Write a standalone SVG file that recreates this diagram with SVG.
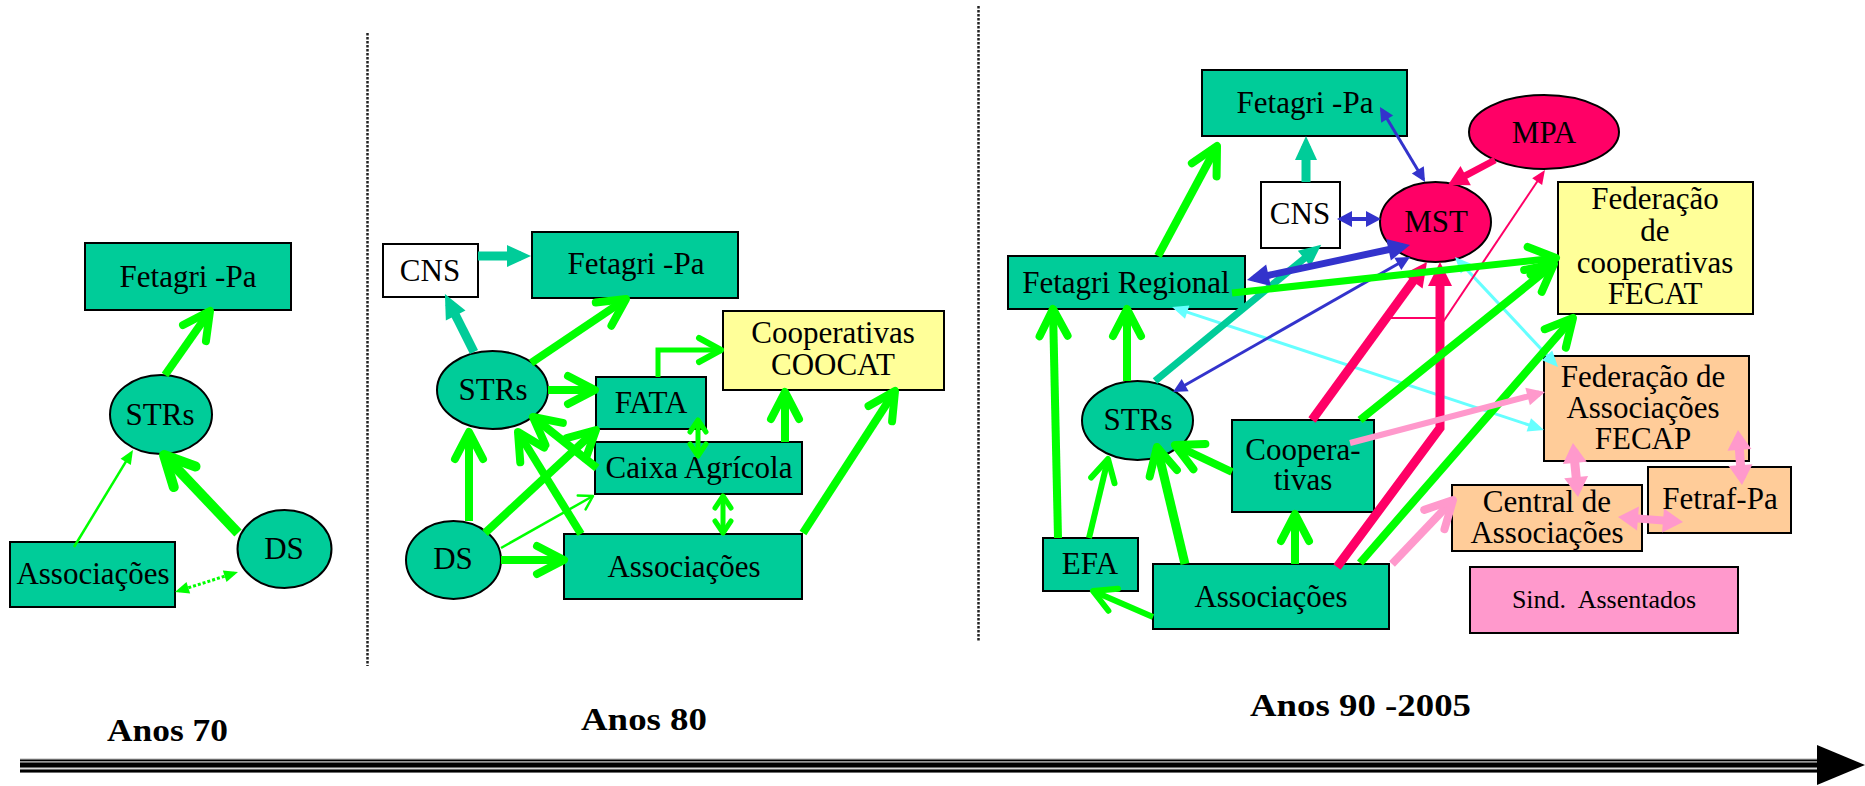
<svg xmlns="http://www.w3.org/2000/svg" width="1865" height="786" viewBox="0 0 1865 786">
<style>
.box{fill:#00CC99;stroke:#000;stroke-width:2}
.wht{fill:#FFFFFF;stroke:#000;stroke-width:2}
.yel{fill:#FFFF99;stroke:#000;stroke-width:2}
.pch{fill:#FFCC99;stroke:#000;stroke-width:2}
.pnk{fill:#FF99CC;stroke:#000;stroke-width:2}
.red{fill:#FF0066;stroke:#000;stroke-width:2}
text{font-family:"Liberation Serif","Times New Roman",serif;font-size:31px;fill:#000;text-anchor:middle}
.lbl{font-weight:bold;text-anchor:start}
.c{fill:none}
.g2{stroke:#00FF00;stroke-width:2.5}
.g5{stroke:#00FF00;stroke-width:5}
.g6{stroke:#00FF00;stroke-width:6}
.g7{stroke:#00FF00;stroke-width:7}
.g8{stroke:#00FF00;stroke-width:8}
.g9{stroke:#00FF00;stroke-width:9}
.g10{stroke:#00FF00;stroke-width:10}
.gd{stroke:#00FF00;stroke-width:3;stroke-dasharray:3 2}
.t7{stroke:#00CC99;stroke-width:7}
.t9{stroke:#00CC99;stroke-width:9}
.b3{stroke:#3333CC;stroke-width:3}
.b4{stroke:#3333CC;stroke-width:4}
.b7{stroke:#3333CC;stroke-width:7}
.r2{stroke:#FF0066;stroke-width:2}
.r7{stroke:#FF0066;stroke-width:7}
.r9{stroke:#FF0066;stroke-width:9}
.p6{stroke:#FF99CC;stroke-width:6}
.p8{stroke:#FF99CC;stroke-width:8}
.p9{stroke:#FF99CC;stroke-width:9}
.c3{stroke:#66FFFF;stroke-width:3}
.chev{fill:none;stroke-linecap:round;stroke-linejoin:round}
</style>
<defs>
<marker id="chL" markerUnits="userSpaceOnUse" viewBox="-40 -25 50 50" markerWidth="50" markerHeight="50" refX="0" refY="0" orient="auto-start-reverse" overflow="visible"><path class="chev" d="M-27,-14 L0,0 L-27,14" stroke="#00FF00" stroke-width="8"/></marker>
<marker id="chXL" markerUnits="userSpaceOnUse" viewBox="-40 -25 50 50" markerWidth="50" markerHeight="50" refX="0" refY="0" orient="auto-start-reverse" overflow="visible"><path class="chev" d="M-30,-15 L0,0 L-30,15" stroke="#00FF00" stroke-width="10"/></marker>
<marker id="chM" markerUnits="userSpaceOnUse" viewBox="-40 -25 50 50" markerWidth="50" markerHeight="50" refX="0" refY="0" orient="auto-start-reverse" overflow="visible"><path class="chev" d="M-22,-12 L0,0 L-22,12" stroke="#00FF00" stroke-width="6"/></marker>
<marker id="chD" markerUnits="userSpaceOnUse" viewBox="-40 -25 50 50" markerWidth="50" markerHeight="50" refX="0" refY="0" orient="auto-start-reverse" overflow="visible"><path class="chev" d="M-12,-8 L0,0 L-12,8" stroke="#00FF00" stroke-width="5"/></marker>
<marker id="chS" markerUnits="userSpaceOnUse" viewBox="-40 -25 50 50" markerWidth="50" markerHeight="50" refX="0" refY="0" orient="auto-start-reverse" overflow="visible"><path class="chev" d="M-13,-8 L0,0 L-13,8" stroke="#00FF00" stroke-width="2.5"/></marker>
<marker id="chP" markerUnits="userSpaceOnUse" viewBox="-40 -25 50 50" markerWidth="50" markerHeight="50" refX="0" refY="0" orient="auto-start-reverse" overflow="visible"><path class="chev" d="M-27,-14 L0,0 L-27,14" stroke="#FF99CC" stroke-width="8"/></marker>
<marker id="tG" markerUnits="userSpaceOnUse" viewBox="-40 -25 50 50" markerWidth="50" markerHeight="50" refX="0" refY="0" orient="auto-start-reverse" overflow="visible"><path d="M-10,-6 L4,0 L-10,6 Z" fill="#00FF00"/></marker>
<marker id="tT" markerUnits="userSpaceOnUse" viewBox="-40 -25 50 50" markerWidth="50" markerHeight="50" refX="0" refY="0" orient="auto-start-reverse" overflow="visible"><path d="M-14,-11 L10,0 L-14,11 Z" fill="#00CC99"/></marker>
<marker id="tT7" markerUnits="userSpaceOnUse" viewBox="-40 -25 50 50" markerWidth="50" markerHeight="50" refX="0" refY="0" orient="auto-start-reverse" overflow="visible"><path d="M-14,-10 L8,0 L-14,10 Z" fill="#00CC99"/></marker>
<marker id="tBs" markerUnits="userSpaceOnUse" viewBox="-40 -25 50 50" markerWidth="50" markerHeight="50" refX="0" refY="0" orient="auto-start-reverse" overflow="visible"><path d="M-11,-7 L3,0 L-11,7 Z" fill="#3333CC"/></marker>
<marker id="tBm" markerUnits="userSpaceOnUse" viewBox="-40 -25 50 50" markerWidth="50" markerHeight="50" refX="0" refY="0" orient="auto-start-reverse" overflow="visible"><path d="M-11,-8 L4,0 L-11,8 Z" fill="#3333CC"/></marker>
<marker id="tBl" markerUnits="userSpaceOnUse" viewBox="-40 -25 50 50" markerWidth="50" markerHeight="50" refX="0" refY="0" orient="auto-start-reverse" overflow="visible"><path d="M-15,-11 L7,0 L-15,11 Z" fill="#3333CC"/></marker>
<marker id="tRs" markerUnits="userSpaceOnUse" viewBox="-40 -25 50 50" markerWidth="50" markerHeight="50" refX="0" refY="0" orient="auto-start-reverse" overflow="visible"><path d="M-11,-6 L3,0 L-11,6 Z" fill="#FF0066"/></marker>
<marker id="tRm" markerUnits="userSpaceOnUse" viewBox="-40 -25 50 50" markerWidth="50" markerHeight="50" refX="0" refY="0" orient="auto-start-reverse" overflow="visible"><path d="M-13,-11 L7,0 L-13,11 Z" fill="#FF0066"/></marker>
<marker id="tRl" markerUnits="userSpaceOnUse" viewBox="-40 -25 50 50" markerWidth="50" markerHeight="50" refX="0" refY="0" orient="auto-start-reverse" overflow="visible"><path d="M-15,-12 L9,0 L-15,12 Z" fill="#FF0066"/></marker>
<marker id="tP" markerUnits="userSpaceOnUse" viewBox="-40 -25 50 50" markerWidth="50" markerHeight="50" refX="0" refY="0" orient="auto-start-reverse" overflow="visible"><path d="M-13,-12 L7,0 L-13,12 Z" fill="#FF99CC"/></marker>
<marker id="tPm" markerUnits="userSpaceOnUse" viewBox="-40 -25 50 50" markerWidth="50" markerHeight="50" refX="0" refY="0" orient="auto-start-reverse" overflow="visible"><path d="M-12,-9 L6,0 L-12,9 Z" fill="#FF99CC"/></marker>
<marker id="tC" markerUnits="userSpaceOnUse" viewBox="-40 -25 50 50" markerWidth="50" markerHeight="50" refX="0" refY="0" orient="auto-start-reverse" overflow="visible"><path d="M-12,-7 L4,0 L-12,7 Z" fill="#66FFFF"/></marker>
</defs>
<rect width="1865" height="786" fill="#FFFFFF"/>

<g id="separators">
<line x1="367.5" y1="33" x2="367.5" y2="666" stroke="#222" stroke-width="2.5" stroke-dasharray="2.5 1.5"/>
<line x1="978.5" y1="6" x2="978.5" y2="642" stroke="#222" stroke-width="2.5" stroke-dasharray="2.5 1.5"/>
</g>

<g id="timeline">
<rect x="20" y="758" width="1798" height="15" fill="#D8D8D8"/>
<rect x="20" y="759.5" width="1798" height="1.8" fill="#000"/>
<rect x="20" y="762.5" width="1798" height="5" fill="#000"/>
<rect x="20" y="769.5" width="1798" height="3" fill="#000"/>
<polygon points="1817,745 1865,765 1817,785" fill="#000"/>
<text class="lbl" x="107" y="741" textLength="121" lengthAdjust="spacingAndGlyphs">Anos 70</text>
<text class="lbl" x="581" y="730" textLength="126" lengthAdjust="spacingAndGlyphs">Anos 80</text>
<text class="lbl" x="1250" y="716" textLength="221" lengthAdjust="spacingAndGlyphs">Anos 90 -2005</text>
</g>

<!-- Era 70 -->
<g id="e1-fetagri"><rect x="85" y="243" width="206" height="67" class="box"/><text x="188" y="287">Fetagri -Pa</text></g>
<g id="e1-strs"><ellipse cx="161" cy="414.5" rx="51" ry="39.5" class="box"/><text x="160" y="425">STRs</text></g>
<g id="e1-assoc"><rect x="10" y="542" width="165" height="65" class="box"/><text x="93" y="584">Associações</text></g>
<g id="e1-ds"><ellipse cx="284.5" cy="549" rx="47" ry="39" class="box"/><text x="284" y="559">DS</text></g>

<!-- Era 80 -->
<g id="e2-cns"><rect x="383" y="244" width="95" height="53" class="wht"/><text x="430" y="281">CNS</text></g>
<g id="e2-fetagri"><rect x="532" y="232" width="206" height="66" class="box"/><text x="636" y="274">Fetagri -Pa</text></g>
<g id="e2-strs"><ellipse cx="492.5" cy="390" rx="55.5" ry="39" class="box"/><text x="493" y="400">STRs</text></g>
<g id="e2-fata"><rect x="596" y="377" width="110" height="52" class="box"/><text x="651" y="413">FATA</text></g>
<g id="e2-caixa"><rect x="595" y="442" width="207" height="52" class="box"/><text x="699" y="478">Caixa Agrícola</text></g>
<g id="e2-coocat"><rect x="723" y="311" width="221" height="79" class="yel"/><text x="833" y="343">Cooperativas</text><text x="833" y="375">COOCAT</text></g>
<g id="e2-assoc"><rect x="564" y="534" width="238" height="65" class="box"/><text x="684" y="577">Associações</text></g>
<g id="e2-ds"><ellipse cx="453.5" cy="560" rx="47.5" ry="39" class="box"/><text x="453" y="569">DS</text></g>

<!-- Era 90-2005 -->
<g id="e3-fetagri"><rect x="1202" y="70" width="205" height="66" class="box"/><text x="1305" y="113">Fetagri -Pa</text></g>
<g id="e3-cns"><rect x="1261" y="182" width="79" height="66" class="wht"/><text x="1300" y="224">CNS</text></g>
<g id="e3-mst"><ellipse cx="1435.5" cy="222" rx="55.5" ry="40" class="red"/><text x="1436" y="232">MST</text></g>
<g id="e3-mpa"><ellipse cx="1544" cy="132" rx="75" ry="37" class="red"/><text x="1544" y="143">MPA</text></g>
<g id="e3-fetreg"><rect x="1008" y="256" width="237" height="53" class="box"/><text x="1126" y="293">Fetagri Regional</text></g>
<g id="e3-fecat"><rect x="1558" y="182" width="195" height="132" class="yel"/><text x="1655" y="209">Federação</text><text x="1655" y="241">de</text><text x="1655" y="273">cooperativas</text><text x="1655" y="304">FECAT</text></g>
<g id="e3-fecap"><rect x="1544" y="356" width="205" height="105" class="pch"/><text x="1643" y="387">Federação de</text><text x="1643" y="418">Associações</text><text x="1643" y="449">FECAP</text></g>
<g id="e3-central"><rect x="1452" y="485" width="190" height="66" class="pch"/><text x="1547" y="512">Central de</text><text x="1547" y="543">Associações</text></g>
<g id="e3-fetraf"><rect x="1648" y="467" width="143" height="66" class="pch"/><text x="1720" y="509">Fetraf-Pa</text></g>
<g id="e3-sind"><rect x="1470" y="567" width="268" height="66" class="pnk"/><text x="1604" y="608" style="font-size:26px">Sind.&#160; Assentados</text></g>
<g id="e3-coop"><rect x="1232" y="420" width="142" height="92" class="box"/><text x="1303" y="460">Coopera-</text><text x="1303" y="490">tivas</text></g>
<g id="e3-efa"><rect x="1043" y="538" width="95" height="53" class="box"/><text x="1090" y="574">EFA</text></g>
<g id="e3-assoc"><rect x="1153" y="564" width="236" height="65" class="box"/><text x="1271" y="607">Associações</text></g>
<g id="e3-strs"><ellipse cx="1137.5" cy="420.5" rx="55.5" ry="39.5" class="box"/><text x="1138" y="430">STRs</text></g>

<g id="connectors" class="c">
<!-- era 70 -->
<path class="g8" d="M165,375 L210,311" marker-end="url(#chL)"/>
<path class="g2" d="M74,547 L130.9,453.4" marker-end="url(#tG)"/>
<path class="g10" d="M238,533 L164,455" marker-end="url(#chXL)"/>
<path class="gd" d="M178.8,590.8 L234.2,573.2" marker-start="url(#tG)" marker-end="url(#tG)"/>
<!-- era 80 -->
<path class="t9" d="M478,256 H521" marker-end="url(#tT)"/>
<path class="t9" d="M474,352 L449.4,303" marker-end="url(#tT)"/>
<path class="g8" d="M531,363 L626,299" marker-end="url(#chL)"/>
<path class="g8" d="M548,390 H595" marker-end="url(#chL)"/>
<path class="g5" d="M658,377 V350 H721" marker-end="url(#chM)"/>
<path class="g5" d="M698,420 V456" marker-start="url(#chD)" marker-end="url(#chD)"/>
<path class="g8" d="M785,442 V392" marker-end="url(#chL)"/>
<path class="g8" d="M597,468 L533,417" marker-end="url(#chL)"/>
<path class="g8" d="M469,521 V432" marker-end="url(#chL)"/>
<path class="g8" d="M485,533 L596,430" marker-end="url(#chL)"/>
<path class="g2" d="M501,548 L593,496" marker-end="url(#chS)"/>
<path class="g8" d="M501,560 H564" marker-end="url(#chL)"/>
<path class="g8" d="M581,534 L518,432" marker-end="url(#chL)"/>
<path class="g5" d="M723,496 V533" marker-start="url(#chD)" marker-end="url(#chD)"/>
<path class="g8" d="M803,533 L895,391" marker-end="url(#chL)"/>
<!-- era 90-2005 -->
<path class="c3" d="M1175.8,308.3 L1540.2,428.7" marker-start="url(#tC)" marker-end="url(#tC)"/>
<path class="c3" d="M1457.7,259.9 L1555.3,364.1" marker-start="url(#tC)" marker-end="url(#tC)"/>
<path class="g8" d="M1158,256 L1217,146" marker-end="url(#chL)"/>
<path class="t9" d="M1306,182 V146" marker-end="url(#tT)"/>
<path class="b3" d="M1381.5,109.6 L1423.5,179.4" marker-start="url(#tBs)" marker-end="url(#tBs)"/>
<path class="b4" d="M1341,219 H1377" marker-start="url(#tBm)" marker-end="url(#tBm)"/>
<path class="t7" d="M1155,381 L1315,249.7" marker-end="url(#tT7)"/>
<path class="b3" d="M1175.6,390.5 L1407.4,258.5" marker-start="url(#tBs)" marker-end="url(#tBs)"/>
<path class="b7" d="M1253.8,278.5 L1403.2,246.5" marker-start="url(#tBl)" marker-end="url(#tBl)"/>
<path class="r2" d="M1390,318 H1441"/>
<path class="r2" d="M1443,322 L1543.3,172.5" marker-end="url(#tRs)"/>
<path class="r7" d="M1495,160 L1454.2,181.7" marker-end="url(#tRm)"/>
<path class="r9" d="M1337,567 L1440,428 V271" marker-end="url(#tRl)"/>
<path class="r9" d="M1312,420 L1421.7,269.3" marker-end="url(#tRl)"/>
<path class="g7" d="M1232,293 L1556,258" marker-end="url(#chL)"/>
<path class="g8" d="M1360,420 L1554,264" marker-end="url(#chL)"/>
<path class="g8" d="M1360,563 L1573,318" marker-end="url(#chL)"/>
<path class="p6" d="M1350,443 L1539.2,393.5" marker-end="url(#tPm)"/>
<path class="p8" d="M1392,564 L1453,500" marker-end="url(#chP)"/>
<path class="p9" d="M1573.6,450 L1577.4,490" marker-start="url(#tP)" marker-end="url(#tP)"/>
<path class="p9" d="M1738.5,437 L1741.5,478" marker-start="url(#tP)" marker-end="url(#tP)"/>
<path class="p8" d="M1625,517.5 L1676,521.5" marker-start="url(#tP)" marker-end="url(#tP)"/>
<path class="g8" d="M1058,538 L1053,309" marker-end="url(#chL)"/>
<path class="g8" d="M1127,381 V309" marker-end="url(#chL)"/>
<path class="g6" d="M1089,538 L1108,459" marker-end="url(#chM)"/>
<path class="g9" d="M1185,564 L1157,447" marker-end="url(#chL)"/>
<path class="g8" d="M1232,472 L1175,445" marker-end="url(#chL)"/>
<path class="g8" d="M1295,564 V514" marker-end="url(#chL)"/>
<path class="g6" d="M1153,617 L1093,591" marker-end="url(#chM)"/>
</g>
</svg>
